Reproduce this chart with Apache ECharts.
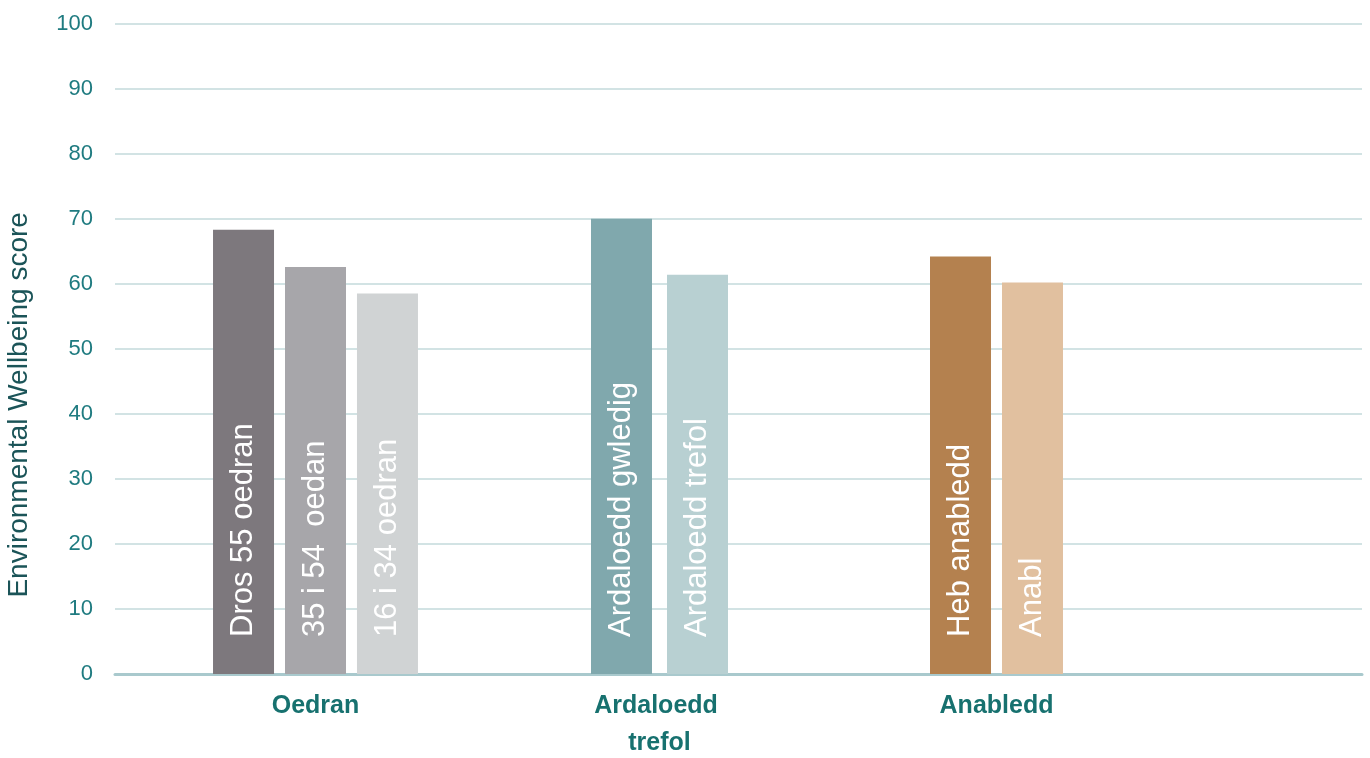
<!DOCTYPE html>
<html>
<head>
<meta charset="utf-8">
<script src="https://cdn.jsdelivr.net/npm/echarts@6/dist/echarts.min.js"></script>
<style>html,body{margin:0;padding:0;background:#fff}#c{width:1370px;height:758px}</style>
</head>
<body>
<div id="c"></div>
<script>
const categories = ['Oedran', 'Ardaloedd trefol', 'Anabledd'];
const barLabels = [
  ['Dros 55 oedran', '35 i 54  oedan', '16 i 34 oedran'],
  ['Ardaloedd gwledig', 'Ardaloedd trefol'],
  ['Heb anabledd', 'Anabl']
];
const barValues = [
  [68.3, 62.6, 58.5],
  [70.0, 61.4],
  [64.2, 60.2]
];
const yTicks = { min: 0, max: 100, interval: 10 };
const yAxisTitle = 'Environmental Wellbeing score';

const barColors = [
  ['#7d787d', '#a7a6aa', '#d0d3d4'],
  ['#80a8ad', '#b8d0d2'],
  ['#b4814f', '#e1c09f']
];
const groupCenters = [315.5, 659.5, 996.5];
const groupGaps = ['18%', '24.6%', '18%'];
const FONT = 'Liberation Sans, Arial, sans-serif';
const TOP = 23.7, BOTTOM = 84;

const grids = [{ left: 115, right: 8, top: TOP, bottom: BOTTOM, outerBoundsMode: 'none', containLabel: false }];
const xAxes = [{
  type: 'category', gridIndex: 0, data: [''],
  axisLine: { show: true, lineStyle: { color: '#a9c9cd', width: 3 } },
  axisTick: { show: false }, axisLabel: { show: false }, splitLine: { show: false }
}];
const yAxes = [{
  type: 'value', gridIndex: 0, min: yTicks.min, max: yTicks.max, interval: yTicks.interval,
  axisLine: { show: false }, axisTick: { show: false },
  axisLabel: { color: '#1f7b80', fontSize: 22, margin: 22, fontFamily: FONT },
  splitLine: { lineStyle: { color: '#c3dadb', width: 1.5 } },
  name: yAxisTitle, nameLocation: 'middle', nameGap: 82, nameRotate: 90,
  nameTextStyle: { color: '#1b5458', fontSize: 28, fontFamily: FONT, padding: [0, 112, 0, 0] }
}];
const series = [];
categories.forEach((cat, k) => {
  const gi = k + 1;
  grids.push({ left: groupCenters[k] - 150, width: 300, top: TOP, bottom: BOTTOM, outerBoundsMode: 'none', containLabel: false });
  xAxes.push({
    type: 'category', gridIndex: gi, data: [cat],
    axisLine: { show: false }, axisTick: { show: false },
    axisLabel: { color: '#17716f', fontWeight: 'bold', fontSize: 25, margin: 13.5, fontFamily: FONT,
      width: 170, overflow: 'break', lineHeight: 37 }
  });
  yAxes.push({ type: 'value', gridIndex: gi, min: yTicks.min, max: yTicks.max, interval: yTicks.interval, show: false });
  barValues[k].forEach((v, j) => {
    series.push({
      type: 'bar', xAxisIndex: gi, yAxisIndex: gi,
      data: [v], barWidth: 61, barGap: groupGaps[k],
      itemStyle: { color: barColors[k][j] },
      label: {
        show: true, formatter: barLabels[k][j], position: 'insideBottom', distance: 37,
        rotate: 90, align: 'left', verticalAlign: 'middle',
        color: '#ffffff', fontSize: 31, fontFamily: FONT
      },
      silent: true
    });
  });
});

const chart = echarts.init(document.getElementById('c'), null, { renderer: 'canvas' });
chart.setOption({
  animation: false,
  backgroundColor: '#ffffff',
  grid: grids, xAxis: xAxes, yAxis: yAxes, series: series
});
</script>
</body>
</html>
